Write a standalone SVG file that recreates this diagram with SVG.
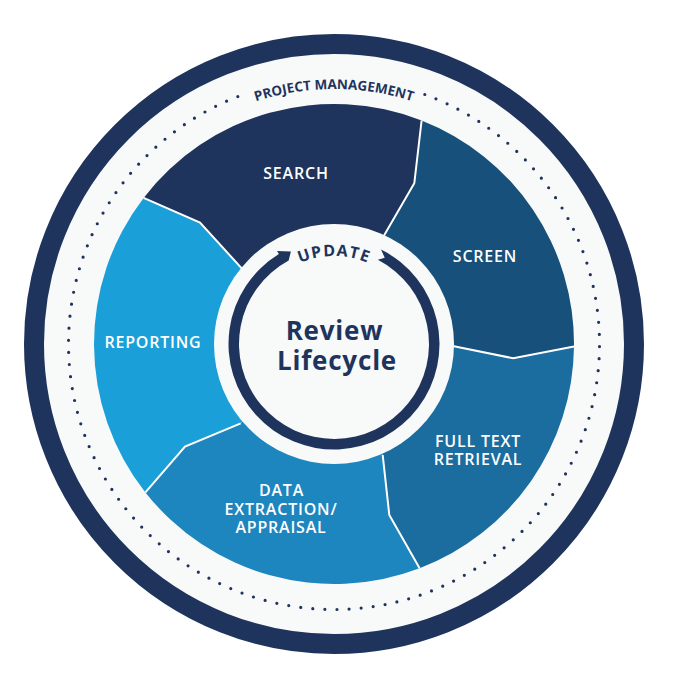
<svg xmlns="http://www.w3.org/2000/svg" width="677" height="682" viewBox="0 0 677 682">
  <style>
    .seglabel { font-family: "Open Sans", "Liberation Sans", sans-serif; font-weight: 600; font-size: 16px; letter-spacing: 0.8px; fill: #ffffff; text-anchor: middle; }
    .boundary { fill: none; stroke: #ffffff; stroke-width: 2; stroke-linejoin: miter; }
    .navytext { font-family: "Open Sans", "Liberation Sans", sans-serif; font-weight: 700; fill: #1f345d; }
  </style>
  <defs>
    <path id="pmArc" d="M 79 344 A 255 255 0 0 1 589 344"/>
    <path id="updArc" d="M 246 344 A 88 88 0 0 1 422 344"/>
  </defs>
  <rect width="677" height="682" fill="#ffffff"/>

  <g id="outer-ring">
    <circle cx="334" cy="344" r="300" fill="#f8fafa" stroke="#1f345d" stroke-width="20"/>
    <path d="M 424.81 94.51 A 265.5 265.5 0 1 1 247.56 92.97" fill="none" stroke="#1f345d" stroke-width="3.2" stroke-linecap="round" stroke-dasharray="0 12.1"/>
    <text class="navytext" font-size="13.5"><textPath href="#pmArc" startOffset="50%" text-anchor="middle">PROJECT MANAGEMENT</textPath></text>
  </g>

  <g id="search">
    <path d="M 334 344 L 241.7 268.3 L 200 222.7 L 143.6 197.9 A 240 240 0 0 1 421.6 120.5 L 414.3 183.3 L 383.3 236.7 Z" fill="#1f345d"/>
    <text class="seglabel" x="296" y="179">SEARCH</text>
  </g>
  <g id="screen">
    <path d="M 334 344 L 383.3 236.7 L 414.3 183.3 L 421.6 120.5 A 240 240 0 0 1 574.0 346.5 L 513.3 358.3 L 452.7 346 Z" fill="#16507b"/>
    <text class="seglabel" x="485" y="261.5">SCREEN</text>
  </g>
  <g id="full-text-retrieval">
    <path d="M 334 344 L 452.7 346 L 513.3 358.3 L 574.0 346.5 A 240 240 0 0 1 419.6 568.2 L 389.3 515 L 382.7 455 Z" fill="#1b6c9f"/>
    <text class="seglabel" x="478" y="446.5">FULL TEXT</text>
    <text class="seglabel" x="478" y="464.5">RETRIEVAL</text>
  </g>
  <g id="data-extraction">
    <path d="M 334 344 L 382.7 455 L 389.3 515 L 419.6 568.2 A 240 240 0 0 1 145.4 492.4 L 185 446.7 L 240.7 423.3 Z" fill="#1e86be"/>
    <text class="seglabel" x="281.5" y="496">DATA</text>
    <text class="seglabel" x="281" y="514.5">EXTRACTION/</text>
    <text class="seglabel" x="281" y="533">APPRAISAL</text>
  </g>
  <g id="reporting">
    <path d="M 334 344 L 240.7 423.3 L 185 446.7 L 145.4 492.4 A 240 240 0 0 1 143.6 197.9 L 200 222.7 L 241.7 268.3 Z" fill="#1b9fd9"/>
    <text class="seglabel" x="153" y="348">REPORTING</text>
  </g>

  <g id="connectors">
    <polyline class="boundary" points="383.3,236.7 414.3,183.3 421.6,120.5"/>
    <polyline class="boundary" points="452.7,346 513.3,358.3 574.0,346.5"/>
    <polyline class="boundary" points="382.7,455 389.3,515 419.6,568.2"/>
    <polyline class="boundary" points="240.7,423.3 185,446.7 145.4,492.4"/>
    <polyline class="boundary" points="241.7,268.3 200,222.7 143.6,197.9"/>
  </g>

  <g id="review-lifecycle">
    <circle cx="334" cy="344" r="120" fill="#f8fafa"/>
    <path d="M 381.07 249.59 A 105.5 105.5 0 1 1 278.88 254.05 L 277.05 251.07 L 290.89 251.56 L 288.67 260.51 A 95 95 0 1 0 377.86 259.73 L 384.75 257.84 Z" fill="#1f345d"/>
    <text class="navytext" font-size="16" letter-spacing="1.2"><textPath href="#updArc" startOffset="50%" text-anchor="middle">UPDATE</textPath></text>
    <text class="navytext" font-size="26" letter-spacing="0.8" x="334.5" y="340" text-anchor="middle">Review</text>
    <text class="navytext" font-size="26" letter-spacing="0.8" x="337" y="370" text-anchor="middle">Lifecycle</text>
  </g>
</svg>
